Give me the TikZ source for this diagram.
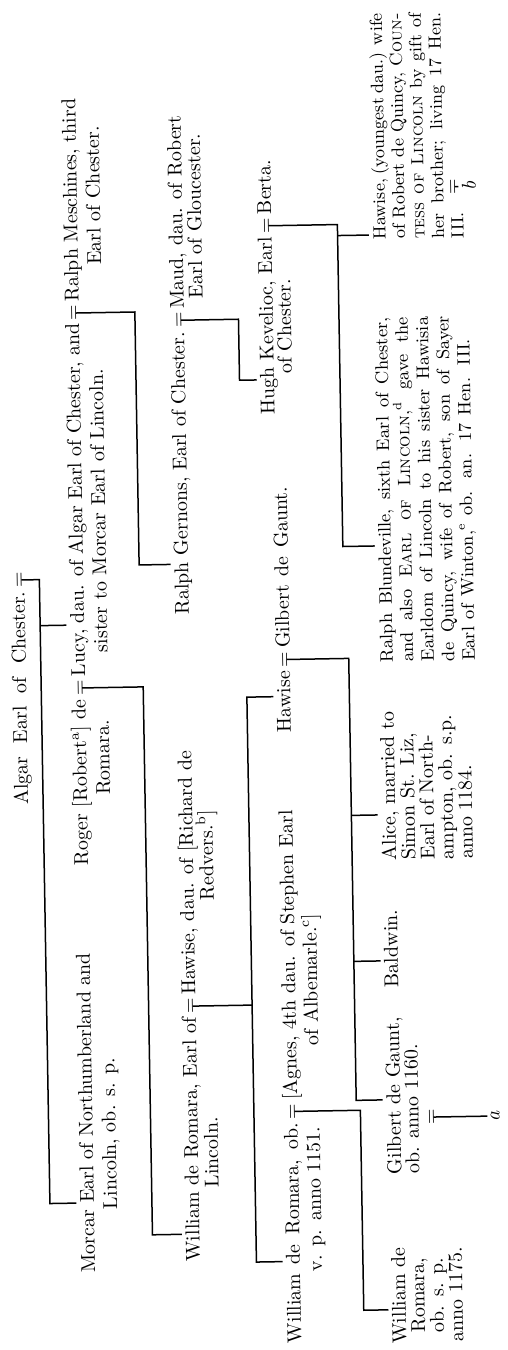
\documentclass[tikz,border=0pt]{standalone}
\usepackage{fontspec}
\usetikzlibrary{calc}
\begin{document}
\begin{tikzpicture}[x=0.5pt,y=0.5pt,
  ln/.style={line width=0.75pt},
  lbl/.style={inner xsep=0pt, inner ysep=1.5pt, font=\fontsize{10}{11.5}\selectfont},
  eqs/.style={inner sep=0pt, text height=3.67pt, text depth=0pt, anchor=base, font=\fontsize{10}{11.5}\selectfont}]
\useasboundingbox (0,0) rectangle (508,-1350);
\fill[white] (0,0) rectangle (508,-1350);
\begin{scope}[rotate around={0.97:(254,-675)}]
\begin{scope}[shift={(508,-1350)}, rotate=90, transform shape]
% ---------- row 1
\node[eqs] (eqA) at (774,482) {=};
\node[lbl, anchor=base east] (algar) at (eqA.base west) {\makebox[108.1pt][s]{Algar Earl of Chester.\kern1.5pt}};
% ---------- row 2
\node[lbl, anchor=base west] (morcar1) at (80,423) {Morcar Earl of Northumberland and};
\node[lbl, anchor=base west] (morcar2) at (143,400) {Lincoln, ob. s. p.};
\node[eqs] (eqR) at (665,423) {=};
\node[lbl, anchor=base east] (roger) at (eqR.base west) {Roger [Robert\textsuperscript{a}] de\kern1.5pt};
\node[lbl, anchor=base] (roger2) at (595,400) {Romara.};
\node[eqs] (eqL) at (1040,423) {=};
\node[lbl, anchor=base west] (lucy) at (eqR.base east) {\makebox[179.7pt][s]{\kern1.5pt Lucy, dau. of Algar Earl of Chester, and\kern1.5pt}};
\node[lbl, anchor=base] (lucy2) at (842,400) {sister to Morcar Earl of Lincoln.};
\node[lbl, anchor=base west] (ralphm) at (eqL.base east) {\kern1.5pt Ralph Meschines, third};
\node[lbl, anchor=base] (ralphm2) at (1157,400) {Earl of Chester.};
% ---------- row 3
\node[eqs] (eqW) at (345,318) {=};
\node[lbl, anchor=base east] (wre) at (eqW.base west) {William de Romara, Earl of\kern1.5pt};
\node[lbl, anchor=base west] (wre2) at (163,298) {Lincoln.};
\node[lbl, anchor=base west] (hawd) at (eqW.base east) {\kern1.5pt Hawise, dau. of [Richard de};
\node[lbl, anchor=base west] (hawd2) at (450,298) {Redvers.\textsuperscript{b}]};
\node[eqs] (eqG) at (1031,318) {=};
\node[lbl, anchor=base east] (rg) at (eqG.base west) {Ralph Gernons, Earl of Chester.\kern1.5pt};
\node[lbl, anchor=base west] (maud) at (eqG.base east) {\kern1.5pt Maud, dau. of Robert};
\node[lbl, anchor=base] (maud2) at (1135,299) {Earl of Gloucester.};
% ---------- row 4
\node[eqs] (eqH) at (1124,229) {=};
\node[lbl, anchor=base east] (hugh) at (eqH.base west) {Hugh Kevelioc, Earl\kern1.5pt};
\node[lbl, anchor=base west] (berta) at (eqH.base east) {\kern1.5pt Berta.};
\node[lbl, anchor=base] (hugh2) at (1023,211) {of Chester.};
% ---------- row 5
\node[eqs] (eqHG) at (690,218) {=};
\node[lbl, anchor=base east] (hawg) at (eqHG.base west) {Hawise\kern1.5pt};
\node[lbl, anchor=base west] (gilbert) at (eqHG.base east) {\makebox[82pt][s]{\kern1.5pt Gilbert\ de Gaunt.}};
\node[eqs] (eqWA) at (238,218) {=};
\node[lbl, anchor=base east] (wob) at (eqWA.base west) {\makebox[111.6pt][s]{William de Romara, ob.\kern1.5pt}};
\node[lbl, anchor=base west] (wob2) at (77,196) {v. p. anno 1151.};
\node[lbl, anchor=base west] (agnes) at (eqWA.base east) {\kern1.5pt[Agnes, 4th dau. of Stephen Earl};
\node[lbl, anchor=base west] (agnes2) at (303,196) {of Albemarle.\textsuperscript{c}]};
% ---------- row 6
\node[lbl, anchor=base west] (blund) at (685,115) {\parbox[t]{172.5pt}{\fontsize{9}{10.25}\selectfont\lineskiplimit=-10pt
\makebox[\linewidth][s]{Ralph Blundeville, sixth Earl of Chester,}\\
\makebox[\linewidth][s]{and also \textsc{Earl of Lincoln},\textsuperscript{d} gave the}\\
\makebox[\linewidth][s]{Earldom of Lincoln to his sister Hawisia}\\
\makebox[\linewidth][s]{de Quincy, wife of Robert, son of Sayer}\\
\makebox[161pt][s]{Earl of Winton,\textsuperscript{e} ob. an. 17 Hen. III.}}};
\node[lbl, anchor=base west] (hawy) at (1108,115) {\parbox[t]{113pt}{\fontsize{8.8}{9.75}\selectfont\lineskiplimit=-10pt
\makebox[\linewidth][s]{Hawise, (youngest dau.) wife}\\
\makebox[\linewidth][s]{of Robert de Quincy, \textsc{Coun-}}\\
\makebox[\linewidth][s]{\textsc{tess of Lincoln} by gift of}\\
\makebox[\linewidth][s]{her brother; living 17 Hen.}\\
III.}};
\node[eqs] (eqB) at (1160,42) {=};
\node[lbl, anchor=base] (bb) at (1160,24) {\textit{b}};
\node[lbl, anchor=base west] (alice) at (487,115) {\parbox[t]{100pt}{\fontsize{10}{9.6}\selectfont\lineskiplimit=-10pt
Alice, married to\\ Simon St. Liz,\\ Earl of North-\\ ampton, ob. s.p.\\ anno 1184.}};
\node[lbl, anchor=base west] (baldwin) at (360,115) {Baldwin.};
\node[lbl, anchor=base west] (gj) at (173,115) {\parbox[t]{90pt}{\fontsize{10}{9}\selectfont\lineskiplimit=-10pt
Gilbert de Gaunt,\\ ob. anno 1160.}};
\node[eqs] (eqGa) at (230,79) {=};
\node[lbl, anchor=base] (aa) at (230,16) {\textit{a}};
\node[lbl, anchor=base] (wc) at (52,113) {\parbox[t]{60pt}{\centering\fontsize{10}{9.5}\selectfont\lineskiplimit=-10pt
William de\\ Romara,\\ ob. s. p.\\ anno 1175.}};
% ---------- stems (start on the lower bar of each =)
\coordinate (sA) at ($(eqA.south)!0.42!(eqA.north)$);
\coordinate (sR) at ($(eqR.south)!0.42!(eqR.north)$);
\coordinate (sL) at ($(eqL.south)!0.42!(eqL.north)$);
\coordinate (sW) at ($(eqW.south)!0.42!(eqW.north)$);
\coordinate (sG) at ($(eqG.south)!0.42!(eqG.north)$);
\coordinate (sH) at ($(eqH.south)!0.42!(eqH.north)$);
\coordinate (sHG) at ($(eqHG.south)!0.42!(eqHG.north)$);
\coordinate (sWA) at ($(eqWA.south)!0.42!(eqWA.north)$);
\coordinate (sB) at ($(eqB.south)!0.42!(eqB.north)$);
\coordinate (sGa) at ($(eqGa.south)!0.42!(eqGa.north)$);
% ---------- bus corners
\coordinate (cA1) at (774,467); \coordinate (cA2) at (150,467); \coordinate (dLucy) at (728,467);
\coordinate (cR1) at (665,365); \coordinate (cR2) at (117,365);
\coordinate (cL1) at (1040,367); \coordinate (cL2) at (787,367);
\coordinate (cW1) at (345,261.5); \coordinate (dWob) at (88,261.5); \coordinate (dHaw) at (653,261.5);
\coordinate (cG1) at (1031,263.5); \coordinate (cG2) at (970,263.5);
\coordinate (cH1) at (1124,163); \coordinate (dBl) at (802,163); \coordinate (dHy) at (1113,163);
\coordinate (cHG1) at (690,159); \coordinate (dGj) at (248,159); \coordinate (dAl) at (533,159); \coordinate (dBa) at (387,159);
\coordinate (cWA1) at (238,155); \coordinate (cWA2) at (38,155);
% ---------- drop ends on the tops of the names
\coordinate (pMorcar) at ($(morcar1.north west)!(cA2)!(morcar1.north east)$);
\coordinate (pLucy) at ($(lucy.north west)!(dLucy)!(lucy.north east)$);
\coordinate (pWre) at ($(wre.north west)!(cR2)!(wre.north east)$);
\coordinate (pRg) at ($(rg.north west)!(cL2)!(rg.north east)$);
\coordinate (pWob) at ($(wob.north west)!(dWob)!(wob.north east)$);
\coordinate (pHaw) at ($(hawg.north west)!(dHaw)!(hawg.north east)$);
\coordinate (pHugh) at ($(hugh.north west)!(cG2)!(hugh.north east)$);
\coordinate (pBl) at ($(blund.north west)!(dBl)!(blund.north east)$);
\coordinate (pHy) at ($(hawy.north west)!(dHy)!(hawy.north east)$);
\coordinate (pGj) at ($(gj.north west)!(dGj)!(gj.north east)$);
\coordinate (pAl) at ($(alice.north west)!(dAl)!(alice.north east)$);
\coordinate (pBa) at ($(baldwin.north west)!(dBa)!(baldwin.north east)$);
\coordinate (pWc) at ($(wc.north west)!(cWA2)!(wc.north east)$);
\coordinate (pa) at ($(aa.north west)!(sGa)!(aa.north east)$);
\coordinate (pb) at ($(bb.north west)!(sB)!(bb.north east)$);
% ---------- connectors
\draw[ln] (sA) -- (cA1) -- (cA2) -- (pMorcar);
\draw[ln] (dLucy) -- (pLucy);
\draw[ln] (sR) -- (cR1) -- (cR2) -- (pWre);
\draw[ln] (sL) -- (cL1) -- (cL2) -- (pRg);
\draw[ln] (sW) -- (cW1);
\draw[ln] (pWob) -- (dWob) -- (dHaw) -- (pHaw);
\draw[ln] (sG) -- (cG1) -- (cG2) -- (pHugh);
\draw[ln] (sH) -- (cH1) -- (dBl) -- (pBl);
\draw[ln] (dHy) -- (pHy);
\draw[ln] (sHG) -- (cHG1) -- (dGj) -- (pGj);
\draw[ln] (dAl) -- (pAl);
\draw[ln] (dBa) -- (pBa);
\draw[ln] (sWA) -- (cWA1) -- (cWA2) -- (pWc);
\draw[ln] (sGa) -- (pa);
\draw[ln] (sB) -- (pb);
\end{scope}
\end{scope}
\end{tikzpicture}
\end{document}
